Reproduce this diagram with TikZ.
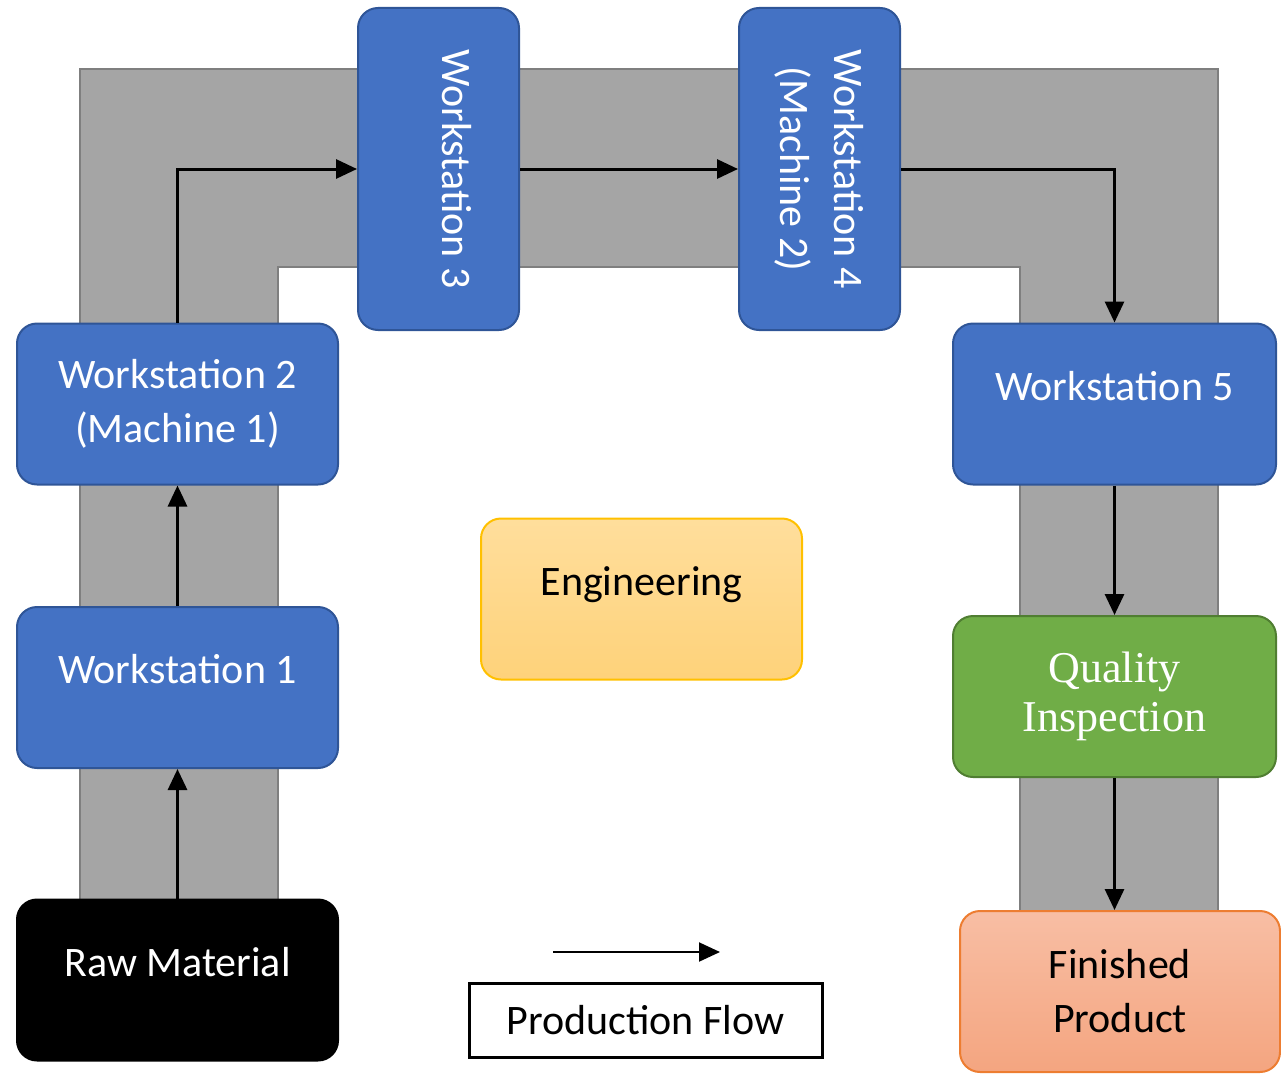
\documentclass[tikz,border=0pt]{standalone}
\usepackage{fontspec}
\usepackage{xcolor}
\setmainfont{Carlito}
\newfontfamily\qifont{Liberation Serif}
\usetikzlibrary{arrows.meta}

\definecolor{wsblue}{HTML}{4472C4}
\definecolor{wsedge}{HTML}{2F5597}
\definecolor{lanefill}{HTML}{A5A5A5}
\definecolor{laneedge}{HTML}{7F7F7F}
\definecolor{qigreen}{HTML}{70AD47}
\definecolor{qiedge}{HTML}{507E32}
\definecolor{engtop}{HTML}{FFDE9C}
\definecolor{engbot}{HTML}{FED27A}
\definecolor{engedge}{HTML}{FFC000}
\definecolor{fptop}{HTML}{F8BEA4}
\definecolor{fpbot}{HTML}{F4A580}
\definecolor{fpedge}{HTML}{ED7D31}

\begin{document}
\begin{tikzpicture}[x=1pt, y=-1pt,
    station/.style={draw=wsedge, fill=wsblue, text=white, line width=2pt, rounded corners=20pt,
        minimum width=321pt, minimum height=161pt, inner sep=0pt, align=center,
        font=\fontsize{42}{54}\selectfont},
    upright/.style={rotate=-90, minimum width=322pt, minimum height=161pt},
    oneline/.style={text height=30pt, text depth=38pt},
    flow/.style={line width=3pt, -{Triangle[length=21pt, width=19pt]}},
    lane/.style={draw=laneedge, fill=lanefill, line width=2.5pt}]
    \useasboundingbox (0,0) rectangle (1281,1081);
    \draw[lane] (80,930) -- (80,69) -- (1218,69) -- (1218,940) -- (1020,940) -- (1020,267) -- (278,267) -- (278,930) -- cycle;
    \node[station, oneline, fill=black, draw=black] (raw) at (177.5,980) {Raw Material};
    \node[station, oneline] (ws1) at (177.5,687.5) {Workstation 1};
    \node[station] (ws2) at (177.5,404) {Workstation 2\\(Machine 1)};
    \node[station, upright, oneline] (ws3) at (438.5,169) {Workstation 3};
    \node[station, upright] (ws4) at (819.5,169) {Workstation 4\\(Machine 2)};
    \node[station, oneline, minimum width=323pt] (ws5) at (1114.5,404) {Workstation 5};
    \node[station, minimum width=323pt, fill=qigreen, draw=qiedge, font=\qifont\fontsize{44}{49}\selectfont] (qi) at (1114.5,696.5) {Quality\\Inspection};
    \node[station, minimum width=320pt, draw=fpedge, top color=fptop, bottom color=fpbot, text=black] (fp) at (1120,991.5) {Finished\\Product};
    \node[station, oneline, draw=engedge, top color=engtop, bottom color=engbot, text=black] (eng) at (641.5,599) {Engineering};
	\draw[flow] (raw) -- (ws1);
	\draw[flow] (ws1) -- (ws2);
	\draw[flow] (ws2) |- (ws3);
	\draw[flow] (ws3) -- (ws4);
	\draw[flow] (ws4) -| (ws5);
	\draw[flow] (ws5) -- (qi);
	\draw[flow] (qi.south) -- (qi.south |- fp.north);
    \coordinate (keyA) at (553,952);
    \coordinate (keyB) at (720,952);
	\draw[flow, line width=2pt] (keyA) -- (keyB);
	\node[draw, line width=3pt, minimum width=353pt, minimum height=74pt, font=\fontsize{42}{54}\selectfont] (key) at (645.5,1020) {Production Flow};
\end{tikzpicture}
\end{document}
